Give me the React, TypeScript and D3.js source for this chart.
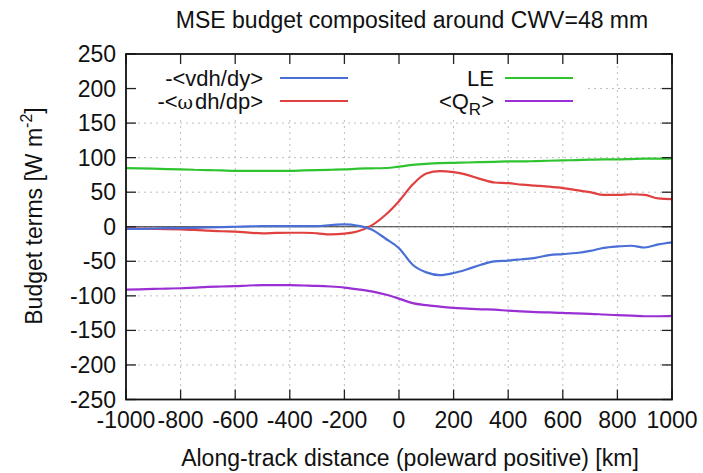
import React from "react";
import * as d3 from "d3";

// Along-track distance (km), sampled every 50 km
const distance = [
  -1000, -950, -900, -850, -800, -750, -700, -650, -600, -550, -500, -450, -400, -350, -300, -250, -200, -150, -100, -50,
  0, 50, 100, 150, 200, 250, 300, 350, 400, 450, 500, 550, 600, 650, 700, 750, 800, 850, 900, 950, 1000,
];

// -<v dh/dy>
const horizAdv = [
  -3, -3, -2.5, -2, -2, -1.5, -1, -0.5, 0, 0.5, 1, 1, 1, 1, 1, 2.5, 3.5, 1.5, -4, -17,
  -31, -55, -66, -70, -67, -61.5, -55, -50, -49, -47, -45, -41, -39.5, -38, -35, -30.5, -28.5, -27.5, -30, -25.5, -22.5,
];

// -<omega dh/dp>
const vertAdv = [
  -2, -2.5, -3, -3.5, -4, -4.5, -5.5, -6.5, -7, -8.5, -9.5, -9, -8.7, -8.7, -9.5, -11, -10, -6.5, 2, 17,
  37, 61, 77, 80.5, 79, 75, 69, 64, 63, 61, 59.5, 58, 56, 53, 50, 46, 46, 47, 46, 41, 40,
];

// Latent heat flux
const latent = [
  85, 84.5, 84, 83.5, 83, 82.5, 82, 81.5, 81, 81, 81, 81, 81, 81.5, 82, 82.5, 83, 84, 84.5, 85,
  87, 89.5, 91, 92, 92.5, 93, 93.5, 94, 94.5, 94.5, 95, 95.5, 96, 96.5, 97, 97.5, 97.5, 98, 98.5, 98.5, 99,
];

// Column radiative heating <Q_R>
const radiative = [
  -91, -90.5, -90, -89.5, -89, -88, -87, -86.5, -86, -85, -84.5, -84.5, -84.5, -85, -85.5, -86.5, -88, -90.5, -93.5, -98,
  -104, -110.5, -113.5, -115.5, -117.5, -118.5, -119.5, -120, -121.5, -122.5, -123.5, -124, -124.5, -125.5, -126, -127, -128, -128.5, -129.5, -129.5, -129,
];

const xTicks = [-1000, -800, -600, -400, -200, 0, 200, 400, 600, 800, 1000];
const yTicks = [250, 200, 150, 100, 50, 0, -50, -100, -150, -200, -250];

const W = 703;
const H = 473;
const left = 126;
const right = 672;
const top = 54;
const bottom = 399.5;
const FONT = "'Liberation Sans', Arial, Helvetica, sans-serif";
const FS = 23;

const colors = {
  blue: "#4a6fd6",
  red: "#e0403f",
  green: "#2fc42f",
  purple: "#9a2fd4",
};

export default function App() {
  const x = d3.scaleLinear().domain([-1000, 1000]).range([left, right]);
  const y = d3.scaleLinear().domain([-250, 250]).range([bottom, top]);

  const makeLine = (vals: number[]) =>
    d3
      .line<number>()
      .x((_, i) => x(distance[i]))
      .y((v) => y(v))
      .curve(d3.curveMonotoneX)(vals) as string;

  const series = [
    { vals: latent, color: colors.green },
    { vals: radiative, color: colors.purple },
    { vals: vertAdv, color: colors.red },
    { vals: horizAdv, color: colors.blue },
  ];

  const tickLen = 10;
  // key box (opaque) covering the grid in the upper-left area
  const keyBox = { x0: left, x1: 586, y0: top, y1: 117 };

  return (
    <svg
      width={W}
      height={H}
      style={{ position: "absolute", left: 0, top: 0, background: "#fff" }}
      fontFamily={FONT}
    >
      <rect x={0} y={0} width={W} height={H} fill="#fff" />

      {/* grid */}
      <g stroke="#bdbdbd" strokeWidth={1} strokeDasharray="2,4">
        {xTicks.slice(1, -1).map((t) => (
          <line key={"gx" + t} x1={x(t)} x2={x(t)} y1={top} y2={bottom} />
        ))}
        {yTicks.slice(1, -1).map((t) => (
          <line key={"gy" + t} x1={left} x2={right} y1={y(t)} y2={y(t)} />
        ))}
      </g>

      {/* opaque key background */}
      <rect
        x={keyBox.x0}
        y={keyBox.y0}
        width={keyBox.x1 - keyBox.x0}
        height={keyBox.y1 - keyBox.y0}
        fill="#fff"
      />

      {/* zero axis */}
      <line x1={left} x2={right} y1={y(0)} y2={y(0)} stroke="#333" strokeWidth={1.2} />

      {/* curves */}
      {series.map((s, i) => (
        <path key={i} d={makeLine(s.vals)} fill="none" stroke={s.color} strokeWidth={2.2} />
      ))}

      {/* ticks, mirrored on all sides */}
      <g stroke="#222" strokeWidth={1.3}>
        {xTicks.map((t) => (
          <g key={"tx" + t}>
            <line x1={x(t)} x2={x(t)} y1={bottom} y2={bottom - tickLen} />
            <line x1={x(t)} x2={x(t)} y1={top} y2={top + tickLen} />
          </g>
        ))}
        {yTicks.map((t) => (
          <g key={"ty" + t}>
            <line x1={left} x2={left + tickLen} y1={y(t)} y2={y(t)} />
            <line x1={right} x2={right - tickLen} y1={y(t)} y2={y(t)} />
          </g>
        ))}
      </g>

      {/* border */}
      <rect x={left} y={top} width={right - left} height={bottom - top} fill="none" stroke="#111" strokeWidth={1.8} />

      {/* tick labels */}
      <g fontSize={FS} fill="#111">
        {yTicks.map((t) => (
          <text key={"ly" + t} x={left - 10} y={y(t) + 8} textAnchor="end">
            {t}
          </text>
        ))}
        {xTicks.map((t) => (
          <text key={"lx" + t} x={x(t)} y={428} textAnchor="middle">
            {t}
          </text>
        ))}
      </g>

      {/* title */}
      <text x={412} y={27.5} textAnchor="middle" fontSize={FS} fill="#111">
        MSE budget composited around CWV=48 mm
      </text>

      {/* axis titles */}
      <text x={410} y={466} textAnchor="middle" fontSize={FS} fill="#111">
        Along-track distance (poleward positive) [km]
      </text>
      <text transform="translate(42,216) rotate(-90)" textAnchor="middle" fontSize={FS} fill="#111">
        Budget terms [W m<tspan fontSize={16} dy={-10}>-2</tspan>
        <tspan dy={10}>]</tspan>
      </text>

      {/* key */}
      <g fontSize={22} fill="#111">
        <text x={263} y={86} textAnchor="end">-&lt;vdh/dy&gt;</text>
        <line x1={280} x2={348} y1={78} y2={78} stroke={colors.blue} strokeWidth={2.2} />
        <text x={263} y={109} textAnchor="end">
          -&lt;<tspan fontFamily="'DejaVu Serif', serif" fontSize={19}>ω</tspan>
          <tspan dx={2}>dh/dp&gt;</tspan>
        </text>
        <line x1={280} x2={348} y1={101} y2={101} stroke={colors.red} strokeWidth={2.2} />

        <text x={494} y={86} textAnchor="end">LE</text>
        <line x1={505} x2={573} y1={78} y2={78} stroke={colors.green} strokeWidth={2.2} />
        <text x={494} y={109} textAnchor="end">
          &lt;Q<tspan fontSize={17} dy={6}>R</tspan>
          <tspan dy={-6}>&gt;</tspan>
        </text>
        <line x1={505} x2={573} y1={101} y2={101} stroke={colors.purple} strokeWidth={2.2} />
      </g>
    </svg>
  );
}
